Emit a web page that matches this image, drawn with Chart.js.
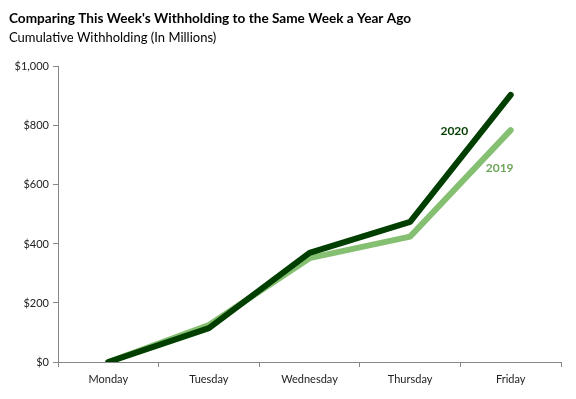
<!DOCTYPE html>
<html>
<head>
<meta charset="utf-8">
<script src="https://cdn.jsdelivr.net/npm/chart.js@4.4.0/dist/chart.umd.min.js"></script>
<style>
  html, body { margin: 0; padding: 0; background: #fff; }
  #wrap { width: 576px; height: 399px; }
</style>
</head>
<body>
<div id="wrap"><canvas id="withholdingChart"></canvas></div>
<script>
var days = ["Monday", "Tuesday", "Wednesday", "Thursday", "Friday"];
var values2020 = [0, 115, 370, 475, 905];
var values2019 = [0, 125, 352, 425, 786];
var seriesNames = ["2020", "2019"];

var darkGreen = "#003f00";
var lightGreen = "#85bf72";
var labelFont = "Lato, 'Liberation Sans', sans-serif";

// series names drawn next to the lines instead of a legend
var seriesLabels = {
    id: 'seriesLabels',
    afterDatasetsDraw: function (chart) {
        var ctx = chart.ctx;
        var xs = chart.scales.x, ys = chart.scales.y;
        var spots = [
            { text: seriesNames[0], x: 3.44, y: 783, color: darkGreen },
            { text: seriesNames[1], x: 3.89, y: 658, color: "#6ea65a" }
        ];
        ctx.save();
        ctx.font = "bold 12px " + labelFont;
        ctx.textAlign = "center";
        ctx.textBaseline = "middle";
        spots.forEach(function (s) {
            ctx.fillStyle = s.color;
            ctx.fillText(s.text, xs.getPixelForValue(s.x), ys.getPixelForValue(s.y));
        });
        ctx.restore();
    }
};

var ctx = document.getElementById("withholdingChart");
new Chart(ctx, {
    type: 'line',
    data: {
        labels: days,
        datasets: [{
            label: seriesNames[0],
            data: values2020,
            borderColor: darkGreen,
            borderWidth: 6,
            pointRadius: 0,
            tension: 0,
            borderCapStyle: 'round',
            borderJoinStyle: 'round'
        }, {
            label: seriesNames[1],
            data: values2019,
            borderColor: lightGreen,
            borderWidth: 6,
            pointRadius: 0,
            tension: 0,
            borderCapStyle: 'round',
            borderJoinStyle: 'round'
        }]
    },
    options: {
        responsive: true,
        maintainAspectRatio: false,
        animation: false,
        layout: { padding: { left: 9, right: 15, top: 0, bottom: 0 } },
        plugins: {
            legend: { display: false },
            tooltip: { enabled: false },
            title: {
                display: true,
                text: "Comparing This Week's Withholding to the Same Week a Year Ago",
                align: 'start',
                color: '#000',
                font: { family: labelFont, size: 13.6, weight: 'bold' },
                padding: { top: 10, bottom: 4 }
            },
            subtitle: {
                display: true,
                text: "Cumulative Withholding (In Millions)",
                align: 'start',
                color: '#000',
                font: { family: labelFont, size: 13 },
                padding: { top: 0, bottom: 21 }
            }
        },
        scales: {
            x: {
                offset: true,
                grid: { offset: true, drawOnChartArea: false, tickLength: 5, color: '#868686' },
                border: { color: '#868686' },
                ticks: { color: '#222', font: { family: labelFont, size: 11 }, padding: 6 },
                afterFit: function (scale) { scale.height = 37; }
            },
            y: {
                min: 0,
                max: 1000,
                ticks: {
                    stepSize: 200,
                    color: '#222',
                    font: { family: labelFont, size: 11 },
                    padding: 4,
                    callback: function (value) { return "$" + value.toLocaleString('en-US'); }
                },
                grid: { drawOnChartArea: false, tickLength: 5, color: '#868686' },
                border: { color: '#868686' },
                afterFit: function (scale) { scale.width = 49; }
            }
        }
    },
    plugins: [seriesLabels]
});
</script>
</body>
</html>
